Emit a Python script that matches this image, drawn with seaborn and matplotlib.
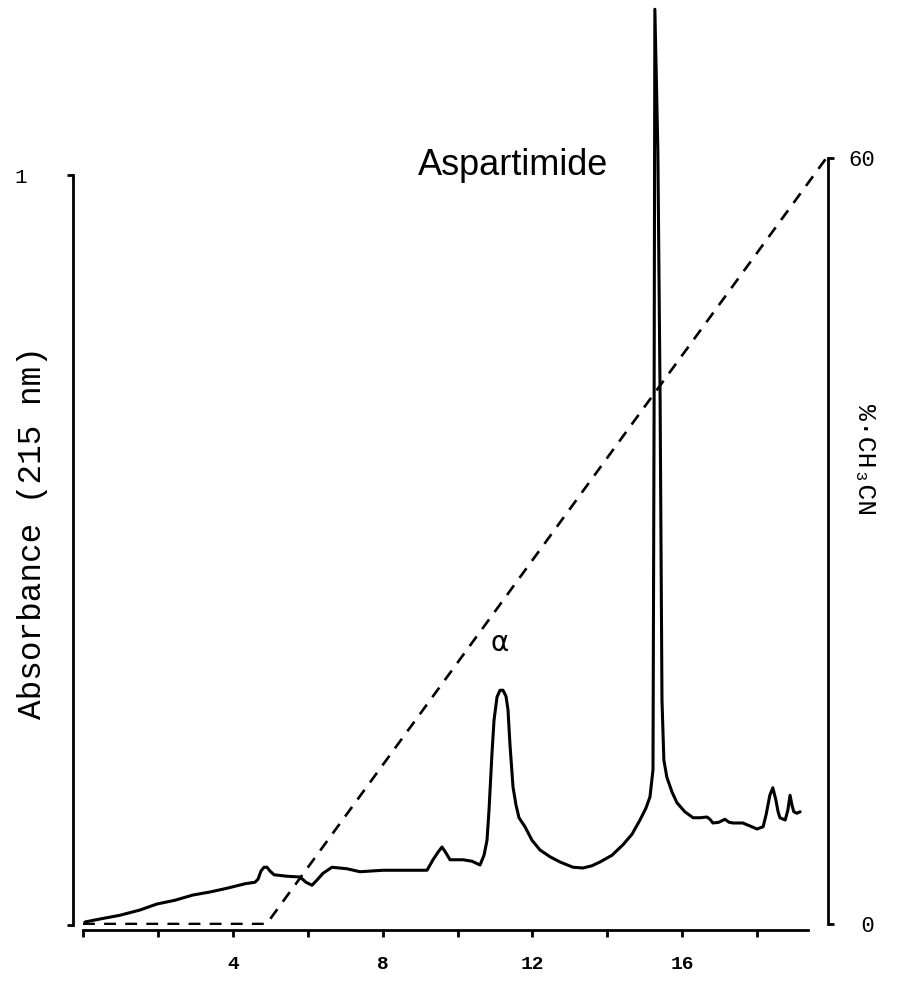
import numpy as np
import pandas as pd
import matplotlib
matplotlib.use("Agg")
import matplotlib.pyplot as plt
import seaborn as sns

# ---- data ----
time_min = [0.053, 0.454, 0.988, 1.522, 1.976, 2.457, 2.937, 3.391, 3.845, 4.326,
            4.593, 4.673, 4.753, 4.833, 4.913, 4.993, 5.100, 5.447, 5.794, 5.955,
            6.115, 6.249, 6.409, 6.649, 7.049, 7.397, 8.011, 8.598, 9.186, 9.346,
            9.479, 9.586, 9.693, 9.800, 10.147, 10.387, 10.601, 10.708, 10.788,
            10.841, 10.921, 10.975, 11.055, 11.135, 11.215, 11.295, 11.348, 11.402,
            11.482, 11.562, 11.642, 11.802, 11.989, 12.203, 12.470, 12.737, 13.084,
            13.351, 13.591, 13.805, 14.125, 14.419, 14.659, 14.873, 15.033, 15.140,
            15.220, 15.250, 15.270, 15.350, 15.410, 15.460, 15.510, 15.590, 15.730,
            15.860, 16.070, 16.290, 16.480, 16.660, 16.740, 16.820, 16.980, 17.140,
            17.250, 17.360, 17.620, 17.810, 18.000, 18.160, 18.240, 18.340, 18.420,
            18.500, 18.560, 18.610, 18.750, 18.820, 18.880, 18.930, 18.980, 19.060,
            19.150]
absorbance = [0.004, 0.008, 0.013, 0.020, 0.028, 0.033, 0.040, 0.044, 0.049, 0.055,
              0.057, 0.061, 0.072, 0.077, 0.077, 0.072, 0.067, 0.065, 0.064, 0.057,
              0.053, 0.060, 0.069, 0.077, 0.075, 0.071, 0.073, 0.073, 0.073, 0.087,
              0.097, 0.104, 0.096, 0.087, 0.087, 0.085, 0.080, 0.093, 0.113, 0.153,
              0.229, 0.273, 0.304, 0.313, 0.313, 0.305, 0.287, 0.240, 0.184, 0.160,
              0.143, 0.131, 0.113, 0.100, 0.091, 0.084, 0.077, 0.076, 0.079, 0.084,
              0.093, 0.107, 0.121, 0.140, 0.156, 0.171, 0.207, 0.700, 1.221, 1.033,
              0.700, 0.300, 0.220, 0.197, 0.177, 0.163, 0.151, 0.143, 0.143, 0.144,
              0.141, 0.136, 0.137, 0.141, 0.137, 0.136, 0.136, 0.132, 0.128, 0.131,
              0.147, 0.173, 0.183, 0.167, 0.151, 0.143, 0.140, 0.153, 0.173, 0.160,
              0.151, 0.149, 0.151]

grad_time = [0.0, 4.9, 19.85]
grad_pct = [0.0, 0.0, 60.0]

x_ticks = [0, 2, 4, 6, 8, 10, 12, 14, 16, 18]
x_tick_labels = ["", "", "4", "", "8", "", "12", "", "16", ""]
left_ticks = [0, 1]
left_tick_labels = ["", "1"]
right_ticks = [0, 60]
right_tick_labels = [" 0", "60"]

# ---- style ----
sns.set_theme(style="white")
plt.rcParams["font.family"] = ["Liberation Mono", "DejaVu Sans Mono"]

W, H = 903, 982
fig = plt.figure(figsize=(W / 100, H / 100), dpi=100)
ax = fig.add_axes([73 / W, 57 / H, 755 / W, 925 / H])
ax2 = ax.twinx()

sns.lineplot(x=time_min, y=absorbance, ax=ax, color="black", linewidth=2.2,
             estimator=None, sort=False)
sns.lineplot(x=grad_time, y=grad_pct, ax=ax2, color="black", linewidth=1.9,
             estimator=None, sort=False, linestyle=(0, (4.5, 3.5)))

ax.set_xlim(-0.267, 19.893)
ax.set_ylim(0, 925 / 750)
ax2.set_ylim(-1 / 12.767, 924 / 12.767)

# spines
for s in ["top", "right"]:
    ax.spines[s].set_visible(False)
for s in ["top", "left", "bottom"]:
    ax2.spines[s].set_visible(False)
ax.spines["left"].set_bounds(0, 1)
ax.spines["left"].set_linewidth(2)
ax.spines["left"].set_color("black")
ax.spines["bottom"].set_position(("outward", 3.6))
ax.spines["bottom"].set_bounds(0, 19.36)
ax.spines["bottom"].set_linewidth(2)
ax.spines["bottom"].set_color("black")
ax2.spines["right"].set_bounds(0, 60)
ax2.spines["right"].set_linewidth(2)
ax2.spines["right"].set_color("black")

# ticks
ax.set_xticks(x_ticks)
ax.set_xticklabels(x_tick_labels, fontsize=14, fontweight="bold")
ax.tick_params(axis="x", bottom=True, direction="out", length=5, width=2,
               pad=14, colors="black")
ax.set_yticks(left_ticks)
ax.set_yticklabels(left_tick_labels, fontsize=15)
ax.tick_params(axis="y", left=True, direction="out", length=4.5, width=2,
               pad=29, colors="black")
ax2.set_yticks(right_ticks)
ax2.set_yticklabels(right_tick_labels, fontsize=16)
ax2.tick_params(axis="y", right=True, direction="out", length=4.5, width=2,
                pad=10, colors="black")

ax.set_xlabel("")
ax.set_ylabel("Absorbance (215 nm)", fontsize=23.5, color="black")
ax.yaxis.set_label_coords(-0.033, 0.424)
ax2.set_ylabel("%·CH₃CN", fontsize=19, rotation=270, color="black",
               va="center")
ax2.yaxis.set_label_coords(1.049, 0.503)

ax.text(11.48, 1.013, "Aspartimide", ha="center", va="center", fontsize=26,
        family=["Liberation Sans", "DejaVu Sans"], color="black")
ax.text(11.13, 0.376, "α", ha="center", va="center", fontsize=20,
        family=["DejaVu Sans"], color="black")

ax.grid(False)
fig.savefig("out.png", dpi=100)
